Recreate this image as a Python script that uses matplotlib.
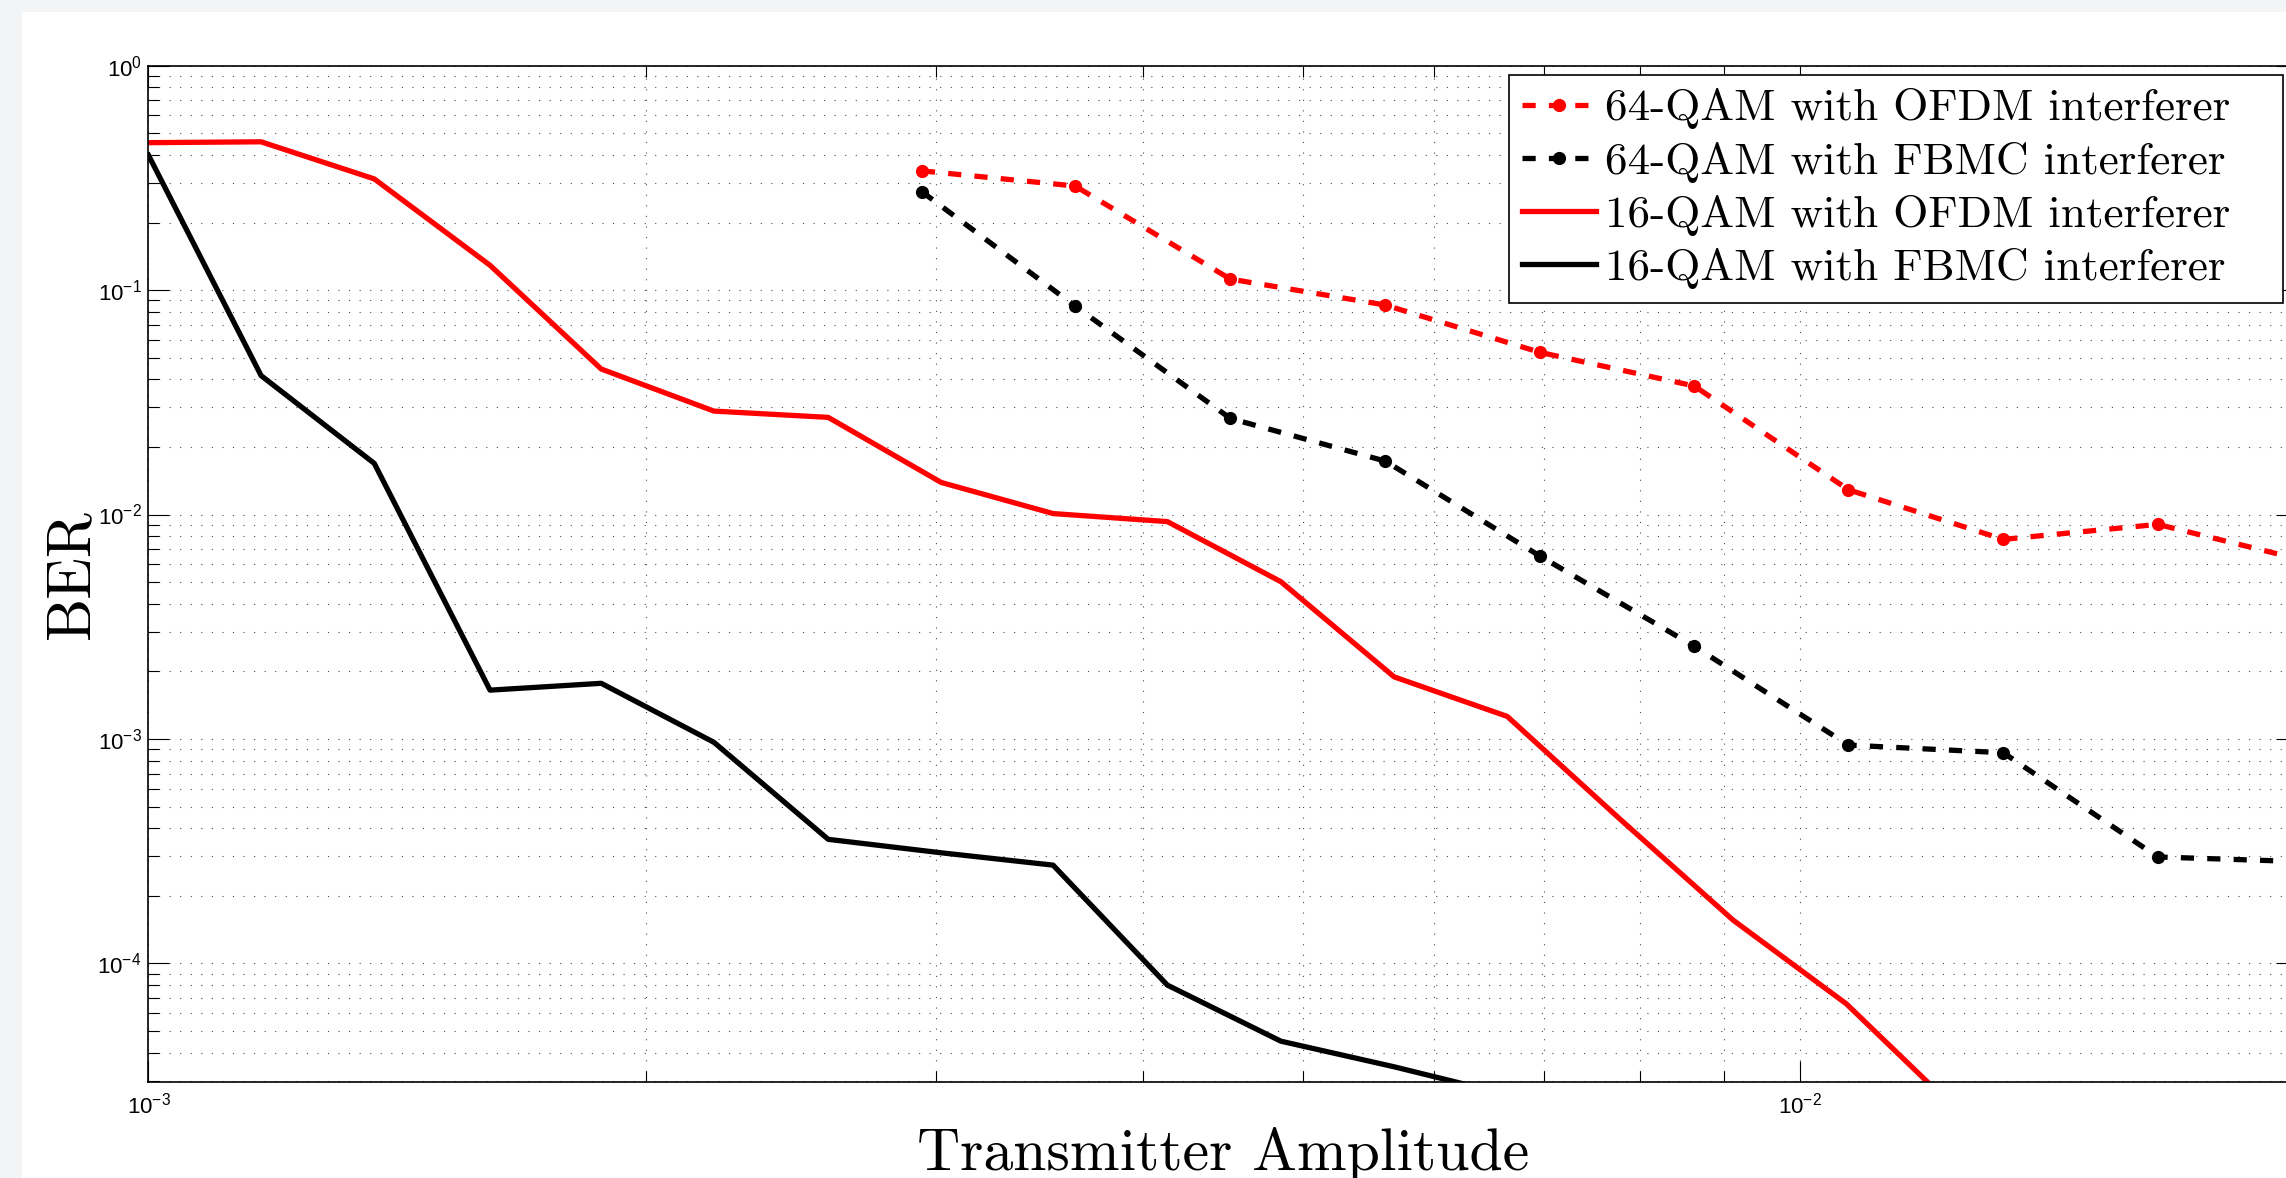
import matplotlib
matplotlib.use("Agg")
import matplotlib.pyplot as plt
from matplotlib.patches import Rectangle
from matplotlib.ticker import LogLocator, NullFormatter

# sans tick labels (10^x), computer modern for labels and legend
plt.rcParams['mathtext.fontset'] = 'custom'
plt.rcParams['mathtext.rm'] = 'Liberation Sans'
plt.rcParams['mathtext.it'] = 'Liberation Sans:italic'
plt.rcParams['mathtext.bf'] = 'Liberation Sans:bold'
plt.rcParams['font.family'] = 'Liberation Sans'

# 16-QAM runs
amp_16 = [0.00100, 0.00117, 0.00137, 0.00161, 0.00188, 0.00220, 0.00258, 0.00302, 0.00353,
          0.00414, 0.00485, 0.00568, 0.00665, 0.00778, 0.00911, 0.01067, 0.01250]
ber_16_ofdm = [0.454, 0.458, 0.313, 0.129, 0.0445, 0.0289, 0.0271, 0.0139, 0.0101,
               0.0093, 0.00502, 0.00189, 0.00126, 4.4e-4, 1.56e-4, 6.6e-5, 2.15e-5]
ber_16_fbmc = [0.399, 0.0416, 0.0169, 0.00165, 0.00177, 0.000966, 0.000357, 0.000311,
               0.000274, 8.0e-5, 4.5e-5, 3.46e-5, 2.6e-5]

# 64-QAM runs
amp_64 = [0.00294, 0.00364, 0.00452, 0.00561, 0.00696, 0.00863, 0.01070, 0.01328, 0.01647, 0.02043]
ber_64_ofdm = [0.340, 0.291, 0.112, 0.0858, 0.0528, 0.0374, 0.0129, 0.00775, 0.00904, 0.00612]
ber_64_fbmc = [0.2745, 0.0849, 0.0268, 0.0173, 0.00653, 0.00259, 0.000939, 0.000868, 0.000298, 0.000283]

labels = ["64-QAM with OFDM interferer", "64-QAM with FBMC interferer",
          "16-QAM with OFDM interferer", "16-QAM with FBMC interferer"]

fig = plt.figure(figsize=(22.86, 11.78), dpi=100, facecolor='#f3f4f6')
fig.add_artist(Rectangle((22 / 2286, 0), 1, 1 - 12 / 1178, transform=fig.transFigure,
                         facecolor='white', edgecolor='none', zorder=-10))

ax = fig.add_axes([0.06496, 0.08175, 0.93984, 0.86248])

lw = 3.8
ax.plot(amp_64, ber_64_ofdm, color='red', lw=lw, dashes=(2.5, 2.5), marker='o', ms=9.5,
        mew=0, label=labels[0])
ax.plot(amp_64, ber_64_fbmc, color='black', lw=lw, dashes=(2.5, 2.5), marker='o', ms=9.5,
        mew=0, label=labels[1])
ax.plot(amp_16, ber_16_ofdm, color='red', lw=lw, label=labels[2])
# the FBMC run stops once the BER falls out of range
ax.plot(amp_16[:len(ber_16_fbmc)], ber_16_fbmc, color='black', lw=lw, label=labels[3])

ax.set_xscale('log')
ax.set_yscale('log')
ax.set_xlim(1e-3, 2e-2)
ax.set_ylim(2.97e-5, 1)

for axis in (ax.xaxis, ax.yaxis):
    axis.set_major_locator(LogLocator(base=10, numticks=20))
    axis.set_minor_locator(LogLocator(base=10, subs=range(2, 10), numticks=200))
    axis.set_minor_formatter(NullFormatter())

ax.grid(True, which='both', linestyle=(0, (1, 8.5)), linewidth=0.8, color='0.3')

ax.tick_params(which='both', direction='in', top=True, right=True, width=0.8, color='black')
ax.tick_params(which='major', length=15, labelsize=16)
ax.tick_params(axis='x', which='major', pad=8)
ax.tick_params(axis='y', which='major', pad=5)
ax.tick_params(which='minor', length=8)
for sp in ax.spines.values():
    sp.set_linewidth(1.2)

ax.set_xlabel('Transmitter Amplitude', family='cmr10', fontsize=43, labelpad=6)
ax.set_ylabel('BER', family='cmr10', fontsize=44, labelpad=-2)

# matlab-style legend box: wider than its text, stretched over a fixed span
leg = ax.legend(loc='upper left', bbox_to_anchor=(0.6332, 0.6909, 0.3603, 0.3), mode='expand',
                borderaxespad=0, prop={'family': 'cmr10', 'size': 32.5}, fancybox=False,
                edgecolor='black', framealpha=1, handlelength=1.62, handletextpad=0.2,
                labelspacing=0.27, borderpad=0.3, numpoints=1)
leg.get_frame().set_linewidth(1.2)

fig.savefig('out.png', dpi=100, facecolor=fig.get_facecolor())
